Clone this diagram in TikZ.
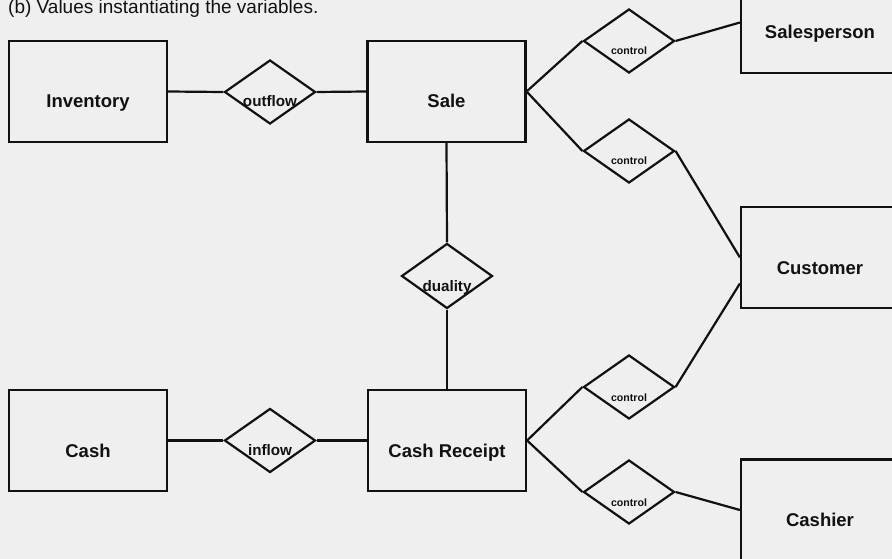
\documentclass[tikz,border=0pt]{standalone}
\usepackage{fontspec}
\setmainfont{Liberation Sans}
\usepackage{xcolor}
\definecolor{scanGray}{RGB}{239, 239, 239}
\definecolor{inkBlack}{RGB}{17, 17, 17}
\usepackage{tikz}
\usetikzlibrary{shapes.geometric, calc}

\tikzset{
	entity/.style={draw=inkBlack, line width=2.2pt, rectangle, minimum width=158pt, minimum height=101pt, inner sep=0pt},
	relation/.style={draw=inkBlack, line width=2.2pt, diamond, minimum width=91pt, minimum height=64pt, inner sep=0pt},
	flatlabel/.style={inner sep=0pt, text height=0pt, text depth=0pt, text=inkBlack},
	elabel/.style={flatlabel, font=\fontsize{18.5}{20}\selectfont\bfseries, yshift=-16.5pt},
	rlabel/.style={flatlabel, font=\fontsize{15.2}{17}\selectfont\bfseries, yshift=-15pt},
	clabel/.style={flatlabel, font=\fontsize{10.6}{12}\selectfont\bfseries, yshift=-14pt},
	link/.style={draw=inkBlack, line width=2.2pt}
}

\begin{document}
\begin{tikzpicture}[x=1pt, y=-1pt]
	\useasboundingbox (0, 0) rectangle (892, 559);
	\fill[scanGray] (0, 0) rectangle (892, 559);
	\clip (0, 0) rectangle (892, 559);
	\coordinate (INV) at (88, 91.5);
	\coordinate (SAL) at (446.5, 91.5);
	\coordinate (CSH) at (88, 440.5);
	\coordinate (REC) at (447, 440.5);
	\coordinate (SPR) at (820, 22.5);
	\coordinate (CUS) at (820, 257.5);
	\coordinate (CHR) at (820, 510);
	\node[anchor=base west, inner sep=0pt, text=inkBlack, font=\fontsize{19}{20}\selectfont] (caption) at (8, 13.5) {(b) Values instantiating the variables.};
	% entities
	\node[entity, label={[elabel, name=inv-t]center:Inventory}] (inv) at (INV) {};
	\node[entity, label={[elabel, name=sale-t]center:Sale}] (sale) at (SAL) {};
	\node[entity, label={[elabel, name=cash-t]center:Cash}] (cash) at (CSH) {};
	\node[entity, label={[elabel, name=rcpt-t]center:Cash Receipt}] (rcpt) at (REC) {};
	\node[entity, label={[elabel, name=spr-t]center:Salesperson}] (spr) at (SPR) {};
	\node[entity, label={[elabel, name=cus-t]center:Customer}] (cus) at (CUS) {};
	\node[entity, label={[elabel, name=chr-t]center:Cashier}] (chr) at (CHR) {};
	% relationships
	\node[relation, label={[rlabel, name=outf-t]center:outflow}] (outf) at (270, 92) {};
	\node[relation, label={[rlabel, name=inf-t]center:inflow}] (inf) at (270, 440.5) {};
	\node[relation, minimum height=65pt, label={[rlabel, name=dual-t]center:duality}] (dual) at (447, 276) {};
	\node[relation, label={[clabel, name=ctl1-t]center:control}] (ctl1) at (629, 41) {};
	\node[relation, label={[clabel, name=ctl2-t]center:control}] (ctl2) at (629, 151) {};
	\node[relation, label={[clabel, name=ctl3-t]center:control}] (ctl3) at (629, 387) {};
	\node[relation, label={[clabel, name=ctl4-t]center:control}] (ctl4) at (629, 492) {};
	\coordinate (cus-lo) at ([yshift=-26pt]cus.west);

	\draw[link] (inv.east) -- (outf.west);
	\draw[link] (outf.east) -- (sale.west);
	\draw[link] (cash.east) -- (inf.west);
	\draw[link] (inf.east) -- (rcpt.west);
	\draw[link] (sale.south) -- (dual.north);
	\draw[link] (dual.south) -- (rcpt.north);
	\draw[link] (sale.east) -- (ctl1.west);
	\draw[link] (sale.east) -- (ctl2.west);
	\draw[link] (rcpt.east) -- (ctl3.west);
	\draw[link] (rcpt.east) -- (ctl4.west);
	\draw[link] (ctl1.east) -- (spr.west);
	\draw[link] (ctl2.east) -- (cus.west);
	\draw[link] (ctl3.east) -- (cus-lo);
	\draw[link] (ctl4.east) -- (chr.west);

\end{tikzpicture}
\end{document}
